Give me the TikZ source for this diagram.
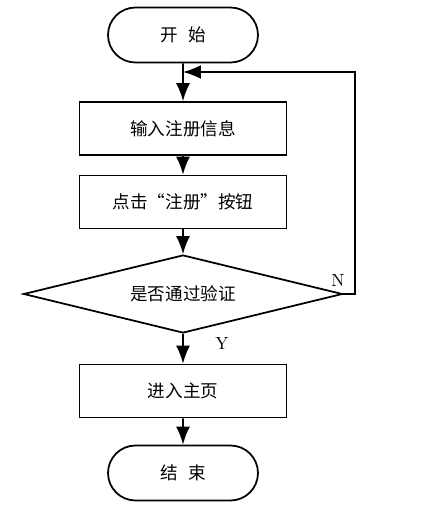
\documentclass[tikz,border=0pt]{standalone}
\usepackage{fontspec}
\newfontfamily\cjk{Noto Sans CJK SC}
\usetikzlibrary{shapes.geometric,shapes.misc,arrows.meta}
\begin{document}
\begin{tikzpicture}[x=0.02cm, y=-0.02cm, line width=1pt,
  every node/.style={font=\cjk\fontsize{10}{12}\selectfont},
  term/.style={draw, rounded rectangle, minimum width=3cm, minimum height=1.1cm, inner sep=0pt},
  box/.style={draw, rectangle, minimum width=4.14cm, minimum height=1.06cm, inner sep=0pt},
  chk/.style={draw, diamond, aspect=4, minimum width=6.38cm, minimum height=1.56cm, inner sep=0pt},
  arr/.style={-{Latex[length=0.36cm, width=0.28cm]}}]
  \useasboundingbox (0,0) rectangle (428,524);
  \node [term] (start) at (183,35) {开\hspace{0.6em}始};
  \node [box] (input) at (183,128.5) {输入注册信息};
  \node [box] (click) at (183,202) {点击“注册”按钮};
  \node [chk] (pass) at (183,294) {是否通过验证};
  \node [box] (home) at (183,391) {进入主页};
  \node [term] (stop) at (183,473) {结\hspace{0.6em}束};
  \coordinate (join) at (183,72);
  \coordinate (corner) at (355,72);
  \draw [arr] (start) -- (input);
  \draw [arr] (input) -- (click);
  \draw [arr] (click) -- (pass);
  \draw [arr] (pass) -- (home);
  \draw [arr] (home) -- (stop);
  \draw [arr] (pass.east) -| (corner) -- (join);
  \node [font=\rmfamily\fontsize{10}{12}\selectfont] (no) at (338,280) {N};
  \node [font=\rmfamily\fontsize{10}{12}\selectfont] (yes) at (222,343) {Y};
\end{tikzpicture}
\end{document}
